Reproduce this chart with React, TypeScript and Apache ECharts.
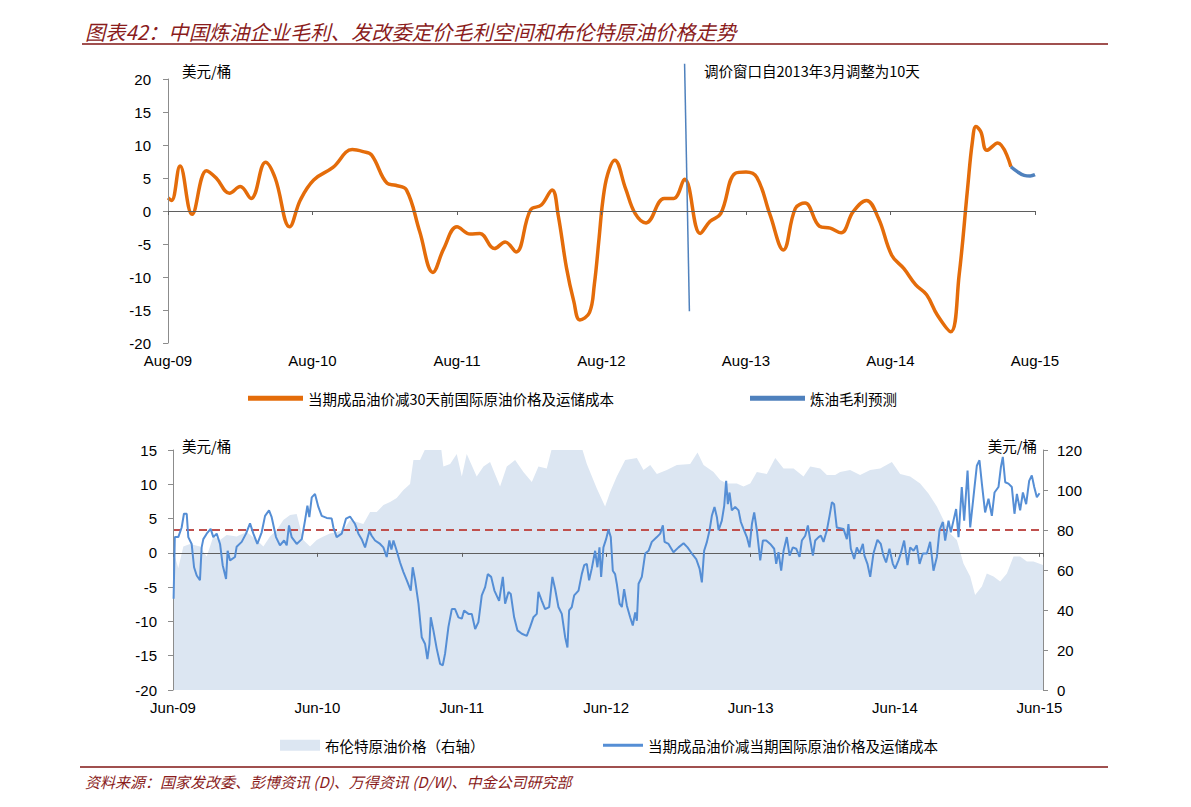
import React, { useEffect, useRef } from 'react';
import * as echarts from 'echarts';

// ---------- Labels ----------
const titleText = '图表42：中国炼油企业毛利、发改委定价毛利空间和布伦特原油价格走势';
const sourceText = '资料来源：国家发改委、彭博资讯 (D)、万得资讯 (D/W)、中金公司研究部';
const unitText = '美元/桶';
const annotationText = '调价窗口自2013年3月调整为10天';
const topTickLabels = ['Aug-09', 'Aug-10', 'Aug-11', 'Aug-12', 'Aug-13', 'Aug-14', 'Aug-15'];
const bottomTickLabels = ['Jun-09', 'Jun-10', 'Jun-11', 'Jun-12', 'Jun-13', 'Jun-14', 'Jun-15'];
const nameSpread30 = '当期成品油价减30天前国际原油价格及运储成本';
const nameForecast = '炼油毛利预测';
const nameBrent = '布伦特原油价格（右轴）';
const nameSpreadNow = '当期成品油价减当期国际原油价格及运储成本';

// ---------- Top chart data: [months since Aug-09, USD/bbl] ----------
const spread30: number[][] = [
  [0, 2.0], [0.3, 1.6], [1.0, 6.8], [2.0, -0.5], [3.2, 6.1], [4.0, 5.0], [5.1, 2.7], [6.0, 3.7],
  [6.9, 1.9], [8.1, 7.4], [8.9, 5.0], [10.1, -2.4], [11.0, 1.7], [12.1, 4.7], [13.7, 6.6],
  [15.3, 9.3], [16.2, 9.0], [16.9, 8.5], [18.2, 4.2], [18.9, 3.9], [19.8, 3.2], [20.9, -3.1],
  [22.0, -9.3], [22.9, -5.7], [24.0, -2.4], [25.1, -3.5], [25.9, -3.4], [27.1, -5.7], [28.0, -4.7],
  [28.9, -6.2], [30.1, 0.15], [31.0, 0.9], [31.9, 3.2], [32.4, -0.6], [33.1, -8.7], [33.7, -13.7],
  [34.2, -16.5], [35.0, -15.4], [35.4, -11.2], [35.8, -4.1], [36.1, 1.4], [36.5, 5.5], [37.1, 7.7],
  [38.0, 3.4], [38.8, -0.4], [39.7, -1.8], [41.2, 1.9], [42.0, 1.9], [42.9, 4.8], [44.2, -3.4],
  [45.0, -1.6], [45.9, -0.4], [47.1, 5.7], [48.0, 5.9], [48.9, 5.1], [50.0, -0.6], [51.1, -5.9],
  [52.1, 0.4], [52.9, 1.2], [54.1, -2.3], [55.0, -2.6], [55.9, -3.3], [56.9, -0.1], [58.0, 1.6],
  [59.0, -1.1], [60.1, -6.7], [61.1, -8.7], [62.1, -11.2], [63.0, -12.7], [63.9, -15.8],
  [65.0, -18.3], [65.7, -9.7], [66.4, 3.4], [66.8, 10.5], [67.1, 12.8], [67.5, 12.0], [68.0, 9.2],
  [68.9, 10.3], [70.0, 6.7],
];
const forecast: number[][] = [[70.0, 6.7], [70.5, 6.0], [71.1, 5.4], [71.6, 5.3], [72.0, 5.5]];
const windowChange: number[][] = [[42.9, 22.3], [43.3, -15.2]];

// ---------- Bottom chart data: [months since Jun-09, value] ----------
const spreadNow: number[][] = [
  [0.05, -6.7], [0.15, 2.3], [0.44, 2.3], [0.72, 3.7], [0.91, 5.7], [1.14, 5.7], [1.27, 2.3], [1.55, 1.3],
  [1.75, -2.1], [1.97, -3.3], [2.24, -4.0], [2.38, 0.8], [2.52, 2.0], [2.8, 2.8], [3.13, 3.5], [3.35, 2.3],
  [3.63, 2.8], [3.91, 1.3], [4.13, -1.8], [4.41, -3.8], [4.54, 0.3], [4.74, -1.1], [5.15, -0.6], [5.29, 0.9],
  [5.71, 1.6], [6.07, 2.8], [6.4, 4.3], [6.68, 2.8], [7.01, 1.3], [7.37, 3.0], [7.65, 5.4], [7.98, 6.2],
  [8.2, 5.2], [8.56, 2.3], [8.89, 1.1], [9.23, 1.8], [9.45, 1.1], [9.64, 4.0], [9.86, 2.3], [10.28, 1.3],
  [10.7, 2.0], [10.97, 4.7], [11.17, 6.9], [11.33, 5.2], [11.53, 8.1], [11.8, 8.6], [12.08, 6.7],
  [12.36, 5.4], [12.77, 5.1], [13.19, 5.0], [13.33, 3.7], [13.6, 2.3], [14.02, 2.8], [14.38, 5.0],
  [14.71, 5.3], [15.13, 4.2], [15.41, 2.8], [15.68, 2.0], [15.96, 0.8], [16.32, 3.2], [16.51, 2.5],
  [16.79, 1.8], [17.21, 1.3], [17.48, 0.8], [17.76, -0.6], [17.98, 1.8], [18.15, 0.5], [18.32, 1.8],
  [18.59, 0.3], [18.87, -1.4], [19.15, -2.8], [19.43, -4.0], [19.76, -5.5], [19.92, -2.1], [20.12, -4.0],
  [20.4, -7.4], [20.67, -12.3], [20.95, -13.3], [21.14, -15.5], [21.31, -13.3], [21.42, -9.4],
  [21.64, -11.3], [21.92, -14.0], [22.2, -16.2], [22.42, -16.4], [22.61, -14.7], [22.89, -10.8],
  [23.17, -8.2], [23.44, -8.2], [23.72, -9.4], [24.0, -9.6], [24.19, -8.4], [24.55, -8.9], [24.83, -8.9],
  [25.11, -11.1], [25.38, -10.1], [25.66, -6.2], [25.94, -5.0], [26.16, -3.1], [26.44, -3.5],
  [26.71, -5.5], [27.1, -7.0], [27.41, -3.5], [27.6, -7.4], [27.88, -5.7], [28.07, -6.0], [28.35, -9.4],
  [28.62, -11.3], [28.99, -11.8], [29.4, -12.1], [29.68, -10.8], [29.95, -9.4], [30.23, -8.9],
  [30.37, -5.7], [30.65, -7.0], [30.92, -8.2], [31.26, -7.9], [31.53, -3.5], [31.76, -5.3], [32.03, -7.9],
  [32.31, -8.9], [32.59, -12.3], [32.78, -13.8], [32.92, -8.4], [33.14, -7.9], [33.34, -6.2],
  [33.7, -5.5], [33.97, -3.1], [34.17, -1.8], [34.39, -1.6], [34.58, -4.0], [34.8, -2.3], [35.08, 0.3],
  [35.27, -2.1], [35.44, 0.8], [35.58, -3.5], [35.77, 0.8], [35.99, 2.0], [36.19, 3.4], [36.38, 2.3],
  [36.55, -2.6], [36.74, -3.1], [36.88, -4.5], [37.11, -7.4], [37.3, -7.9], [37.49, -5.3], [37.72, -7.7],
  [37.99, -9.4], [38.21, -10.6], [38.41, -8.7], [38.55, -9.9], [38.69, -4.5], [38.96, -3.5],
  [39.24, -0.1], [39.52, 0.3], [39.79, 1.6], [40.21, 2.3], [40.49, 2.8], [40.71, 4.0], [40.85, 1.6],
  [41.18, 1.3], [41.59, 0.1], [42.01, 0.8], [42.43, 1.4], [42.76, 0.8], [43.12, -0.1], [43.48, -0.9],
  [43.76, -2.3], [43.95, -4.3], [44.14, 0.3], [44.37, 1.6], [44.59, 3.3], [44.78, 5.4], [45.0, 6.7],
  [45.2, 5.2], [45.34, 3.3], [45.61, 4.7], [45.81, 6.9], [45.97, 10.5], [46.11, 7.1], [46.25, 8.8],
  [46.44, 6.2], [46.72, 6.7], [47.0, 6.2], [47.19, 4.5], [47.41, 3.5], [47.69, 2.3], [47.91, 0.8],
  [48.11, 4.2], [48.3, 5.9], [48.52, 3.3], [48.8, -1.1], [49.02, 1.8], [49.3, 1.8], [49.63, 1.3],
  [49.96, 0.6], [50.13, -1.6], [50.32, 0.1], [50.54, -2.6], [50.74, 0.3], [51.01, 2.3], [51.24, -0.4],
  [51.51, 0.8], [51.79, 0.6], [52.07, -0.6], [52.26, 1.8], [52.54, 2.5], [52.76, 4.0], [52.96, 1.8],
  [53.18, -0.4], [53.37, 1.8], [53.65, 2.3], [53.84, 2.5], [54.06, 1.6], [54.34, 3.3], [54.56, 5.4],
  [54.76, 7.4], [54.94, 7.1], [55.16, 3.7], [55.44, 3.6], [55.72, 3.5], [56.0, 2.0], [56.13, 4.2],
  [56.33, 0.6], [56.61, -0.9], [56.83, 0.8], [57.05, -0.1], [57.33, 1.3], [57.46, -0.4], [57.71, -1.6],
  [57.94, -3.5], [58.21, -0.1], [58.54, 1.9], [58.82, 1.3], [59.04, -0.4], [59.26, -1.4], [59.54, 0.6],
  [59.82, -1.6], [60.01, -2.3], [60.29, -1.1], [60.48, -0.1], [60.76, 1.8], [61.04, -1.8], [61.26, 0.8],
  [61.54, 0.3], [61.81, 1.1], [62.04, -1.6], [62.31, -0.1], [62.65, -0.1], [62.92, 1.6], [63.2, -2.6],
  [63.48, -0.6], [63.7, 3.3], [63.98, 4.5], [64.17, 1.8], [64.45, 4.7], [64.64, 3.0], [64.86, 4.7],
  [65.08, 6.4], [65.28, 2.3], [65.55, 9.6], [65.75, 4.7], [66.03, 12.0], [66.25, 3.7], [66.58, 9.1],
  [66.8, 12.7], [67.02, 13.5], [67.22, 10.1], [67.49, 5.9], [67.77, 7.9], [68.05, 5.4], [68.27, 8.8],
  [68.6, 9.6], [68.8, 12.5], [68.96, 14.0], [69.16, 10.3], [69.43, 10.1], [69.71, 9.6], [69.93, 5.7],
  [70.13, 8.6], [70.4, 6.2], [70.63, 8.8], [70.9, 7.1], [71.15, 10.5], [71.37, 11.3], [71.57, 9.6],
  [71.79, 8.1], [72.01, 8.7],
];
const brent: number[][] = [
  [0, 70], [0.44, 61], [0.86, 71.7], [1.41, 73], [2.24, 71.7], [2.8, 66.7], [3.35, 76.7], [3.91, 75],
  [4.46, 77.5], [5.29, 76.7], [6.12, 79], [6.96, 75], [7.51, 71.7], [8.06, 76.7], [8.62, 80], [9.17, 85],
  [9.73, 87.5], [10.28, 88], [10.83, 75], [11.39, 71.7], [11.94, 75], [12.5, 76.7], [13.05, 78.3],
  [13.61, 79], [14.16, 80], [14.71, 85], [15.27, 84], [15.82, 83], [16.38, 89], [16.93, 89], [17.49, 92.5],
  [18.04, 94], [18.59, 96], [19.15, 100], [19.7, 103], [19.98, 115], [20.53, 115], [21.23, 124],
  [22.2, 125], [22.47, 111.7], [23.03, 113], [23.58, 118], [24.0, 106.7], [24.41, 118], [25.24, 106.7],
  [25.8, 111.7], [26.35, 114], [27.18, 101.7], [27.74, 111.7], [28.43, 115], [29.12, 109], [29.82, 104],
  [30.37, 111.7], [31.06, 110.8], [31.62, 124], [33.83, 124], [34.39, 113], [35.22, 100.8],
  [35.91, 91.7], [36.33, 99], [36.88, 106.7], [37.58, 115], [38.55, 116], [39.1, 110], [39.66, 112.5],
  [40.21, 108], [41.04, 110], [41.87, 112.5], [42.98, 113], [43.59, 118.7], [44.09, 112.5], [44.92, 109],
  [45.47, 105], [46.03, 103.3], [46.86, 103.3], [47.41, 101.7], [47.97, 103.3], [48.52, 109],
  [49.35, 108], [50.05, 116], [50.74, 110.8], [51.57, 110.8], [52.4, 106.7], [52.96, 111.7],
  [53.79, 110.8], [54.34, 107.5], [55.03, 107.5], [55.44, 109], [56.27, 110], [57.1, 107.5], [57.94, 110],
  [58.77, 110.8], [59.74, 114], [60.43, 108], [61.26, 106.7], [62.09, 103.3], [62.78, 98.3],
  [63.48, 91.7], [64.03, 85], [64.58, 78.3], [65.14, 75], [65.69, 63.3], [66.25, 56.7], [66.66, 47.5],
  [67.22, 51.7], [67.63, 58.3], [68.19, 56.7], [68.74, 54.2], [69.3, 58.3], [69.85, 66.7], [70.4, 66.7],
  [70.96, 64.2], [71.51, 64.2], [72.3, 62.5],
];
const benchmarkLevel = 80;

const FONT_LATIN = '"Liberation Sans", Arial, Helvetica, sans-serif';
const FONT_CJK = '"Noto Sans CJK SC", "Liberation Sans", sans-serif';
const AXIS_GRAY = '#8c8c8c';
const ZERO_GRAY = '#5f5f5f';
const ORANGE = '#e46c0a';
const BLUE = '#4f81bd';
const LINE_BLUE = '#558ed5';
const AREA = '#dce6f2';
const RED_DARK = '#8a1c1c';
const RULE = '#a0504f';

export default function App() {
  const ref = useRef<HTMLDivElement>(null);

  useEffect(() => {
    if (!ref.current) return;
    const chart = echarts.init(ref.current, undefined, { renderer: 'svg' });

    const labelAxis = (grid: number, labels: string[], max: number) => ({
      type: 'value',
      gridIndex: grid,
      position: 'bottom',
      min: 0,
      max,
      interval: 12,
      axisLine: { show: false, onZero: false },
      axisTick: { show: false },
      splitLine: { show: false },
      axisLabel: {
        margin: 10,
        fontSize: 15,
        color: '#000',
        fontFamily: FONT_LATIN,
        showMaxLabel: true,
        formatter: (v: number) => {
          const i = Math.round(v / 12);
          return Math.abs(v - i * 12) < 1e-6 ? labels[i] ?? '' : '';
        },
      },
    });
    const zeroAxis = (grid: number, max: number) => ({
      type: 'value',
      gridIndex: grid,
      position: 'top',
      min: 0,
      max,
      interval: 12,
      z: 5,
      axisLine: { show: true, onZero: true, lineStyle: { color: ZERO_GRAY, width: 1 } },
      axisTick: { show: true, inside: true, length: 4, lineStyle: { color: ZERO_GRAY } },
      axisLabel: { show: false },
      splitLine: { show: false },
    });
    const valueAxis = (
      grid: number,
      position: string,
      min: number,
      max: number,
      interval: number,
      margin: number,
    ) => ({
      type: 'value',
      gridIndex: grid,
      position,
      min,
      max,
      interval,
      z: 5,
      axisLine: { show: true, onZero: false, lineStyle: { color: AXIS_GRAY, width: 1 } },
      axisTick: { show: true, inside: false, length: 5, lineStyle: { color: AXIS_GRAY } },
      splitLine: { show: false },
      axisLabel: { margin, fontSize: 15, color: '#000', fontFamily: FONT_LATIN },
    });

    const legendBase = (left: number, top: number, name: string, w: number, h: number) => ({
      left,
      top,
      padding: 0,
      icon: 'rect',
      itemWidth: w,
      itemHeight: h,
      selectedMode: false,
      data: [name],
      itemStyle: { borderWidth: 0 },
      textStyle: { fontSize: 14.5, color: '#000', fontFamily: FONT_CJK },
    });

    chart.setOption({
      animation: false,
      backgroundColor: '#ffffff',
      grid: [
        { left: 168, top: 79, width: 867, height: 264 },
        { left: 173, top: 450, width: 870, height: 240 },
      ],
      xAxis: [
        labelAxis(0, topTickLabels, 72),
        zeroAxis(0, 72),
        labelAxis(1, bottomTickLabels, 72.3),
        zeroAxis(1, 72.3),
      ],
      yAxis: [
        valueAxis(0, 'left', -20, 20, 5, 17),
        valueAxis(1, 'left', -20, 15, 5, 16),
        valueAxis(1, 'right', 0, 120, 20, 14),
      ],
      legend: [
        legendBase(248, 391, nameSpread30, 55, 5),
        legendBase(750, 391, nameForecast, 55, 5),
        legendBase(280, 738, nameBrent, 40, 11),
        legendBase(603, 738, nameSpreadNow, 40, 3),
      ],
      series: [
        {
          name: nameSpread30,
          type: 'line',
          xAxisIndex: 0,
          yAxisIndex: 0,
          smooth: 0.4,
          showSymbol: false,
          color: ORANGE,
          lineStyle: { color: ORANGE, width: 3.5 },
          data: spread30,
          z: 3,
        },
        {
          name: nameForecast,
          type: 'line',
          xAxisIndex: 0,
          yAxisIndex: 0,
          smooth: 0.4,
          showSymbol: false,
          color: BLUE,
          lineStyle: { color: BLUE, width: 3.5 },
          data: forecast,
          z: 4,
        },
        {
          name: '调价窗口',
          type: 'line',
          xAxisIndex: 0,
          yAxisIndex: 0,
          clip: false,
          showSymbol: false,
          color: BLUE,
          lineStyle: { color: BLUE, width: 1.5 },
          data: windowChange,
          z: 4,
        },
        {
          name: nameBrent,
          type: 'line',
          xAxisIndex: 2,
          yAxisIndex: 2,
          showSymbol: false,
          color: AREA,
          lineStyle: { width: 0, color: AREA },
          areaStyle: { color: AREA, opacity: 1, origin: 'start' },
          data: brent,
          z: 1,
          markLine: {
            silent: true,
            symbol: ['none', 'none'],
            label: { show: false },
            lineStyle: { color: '#c0504d', width: 2, type: [8, 5] },
            data: [{ yAxis: benchmarkLevel }],
            z: 2,
          },
        },
        {
          name: nameSpreadNow,
          type: 'line',
          xAxisIndex: 2,
          yAxisIndex: 1,
          showSymbol: false,
          color: LINE_BLUE,
          lineStyle: { color: LINE_BLUE, width: 2 },
          data: spreadNow,
          z: 6,
        },
      ],
      graphic: [
        {
          type: 'text',
          x: 85,
          y: 31,
          style: {
            text: titleText,
            fontSize: 20.3,
            fontStyle: 'italic',
            fontFamily: FONT_CJK,
            fill: RED_DARK,
            align: 'left',
            verticalAlign: 'middle',
          },
        },
        { type: 'line', shape: { x1: 82, y1: 44, x2: 1108, y2: 44 }, style: { stroke: RULE, lineWidth: 2 } },
        { type: 'line', shape: { x1: 80, y1: 767, x2: 1108, y2: 767 }, style: { stroke: RULE, lineWidth: 2 } },
        {
          type: 'text',
          x: 85,
          y: 781,
          style: {
            text: sourceText,
            fontSize: 15,
            fontStyle: 'italic',
            fontFamily: FONT_CJK,
            fill: RED_DARK,
            align: 'left',
            verticalAlign: 'middle',
          },
        },
        {
          type: 'text', x: 182, y: 70,
          style: { text: unitText, fontSize: 14.5, fontFamily: FONT_CJK, fill: '#000', align: 'left', verticalAlign: 'middle' },
        },
        {
          type: 'text', x: 704, y: 70,
          style: { text: annotationText, fontSize: 14.5, fontFamily: FONT_CJK, fill: '#000', align: 'left', verticalAlign: 'middle' },
        },
        {
          type: 'text', x: 182, y: 445,
          style: { text: unitText, fontSize: 14.5, fontFamily: FONT_CJK, fill: '#000', align: 'left', verticalAlign: 'middle' },
        },
        {
          type: 'text', x: 1037, y: 445,
          style: { text: unitText, fontSize: 14.5, fontFamily: FONT_CJK, fill: '#000', align: 'right', verticalAlign: 'middle' },
        },
      ],
    });

    return () => chart.dispose();
  }, []);

  return (
    <div
      ref={ref}
      style={{ position: 'fixed', left: 0, top: 0, width: 1191, height: 807, background: '#fff' }}
    />
  );
}
